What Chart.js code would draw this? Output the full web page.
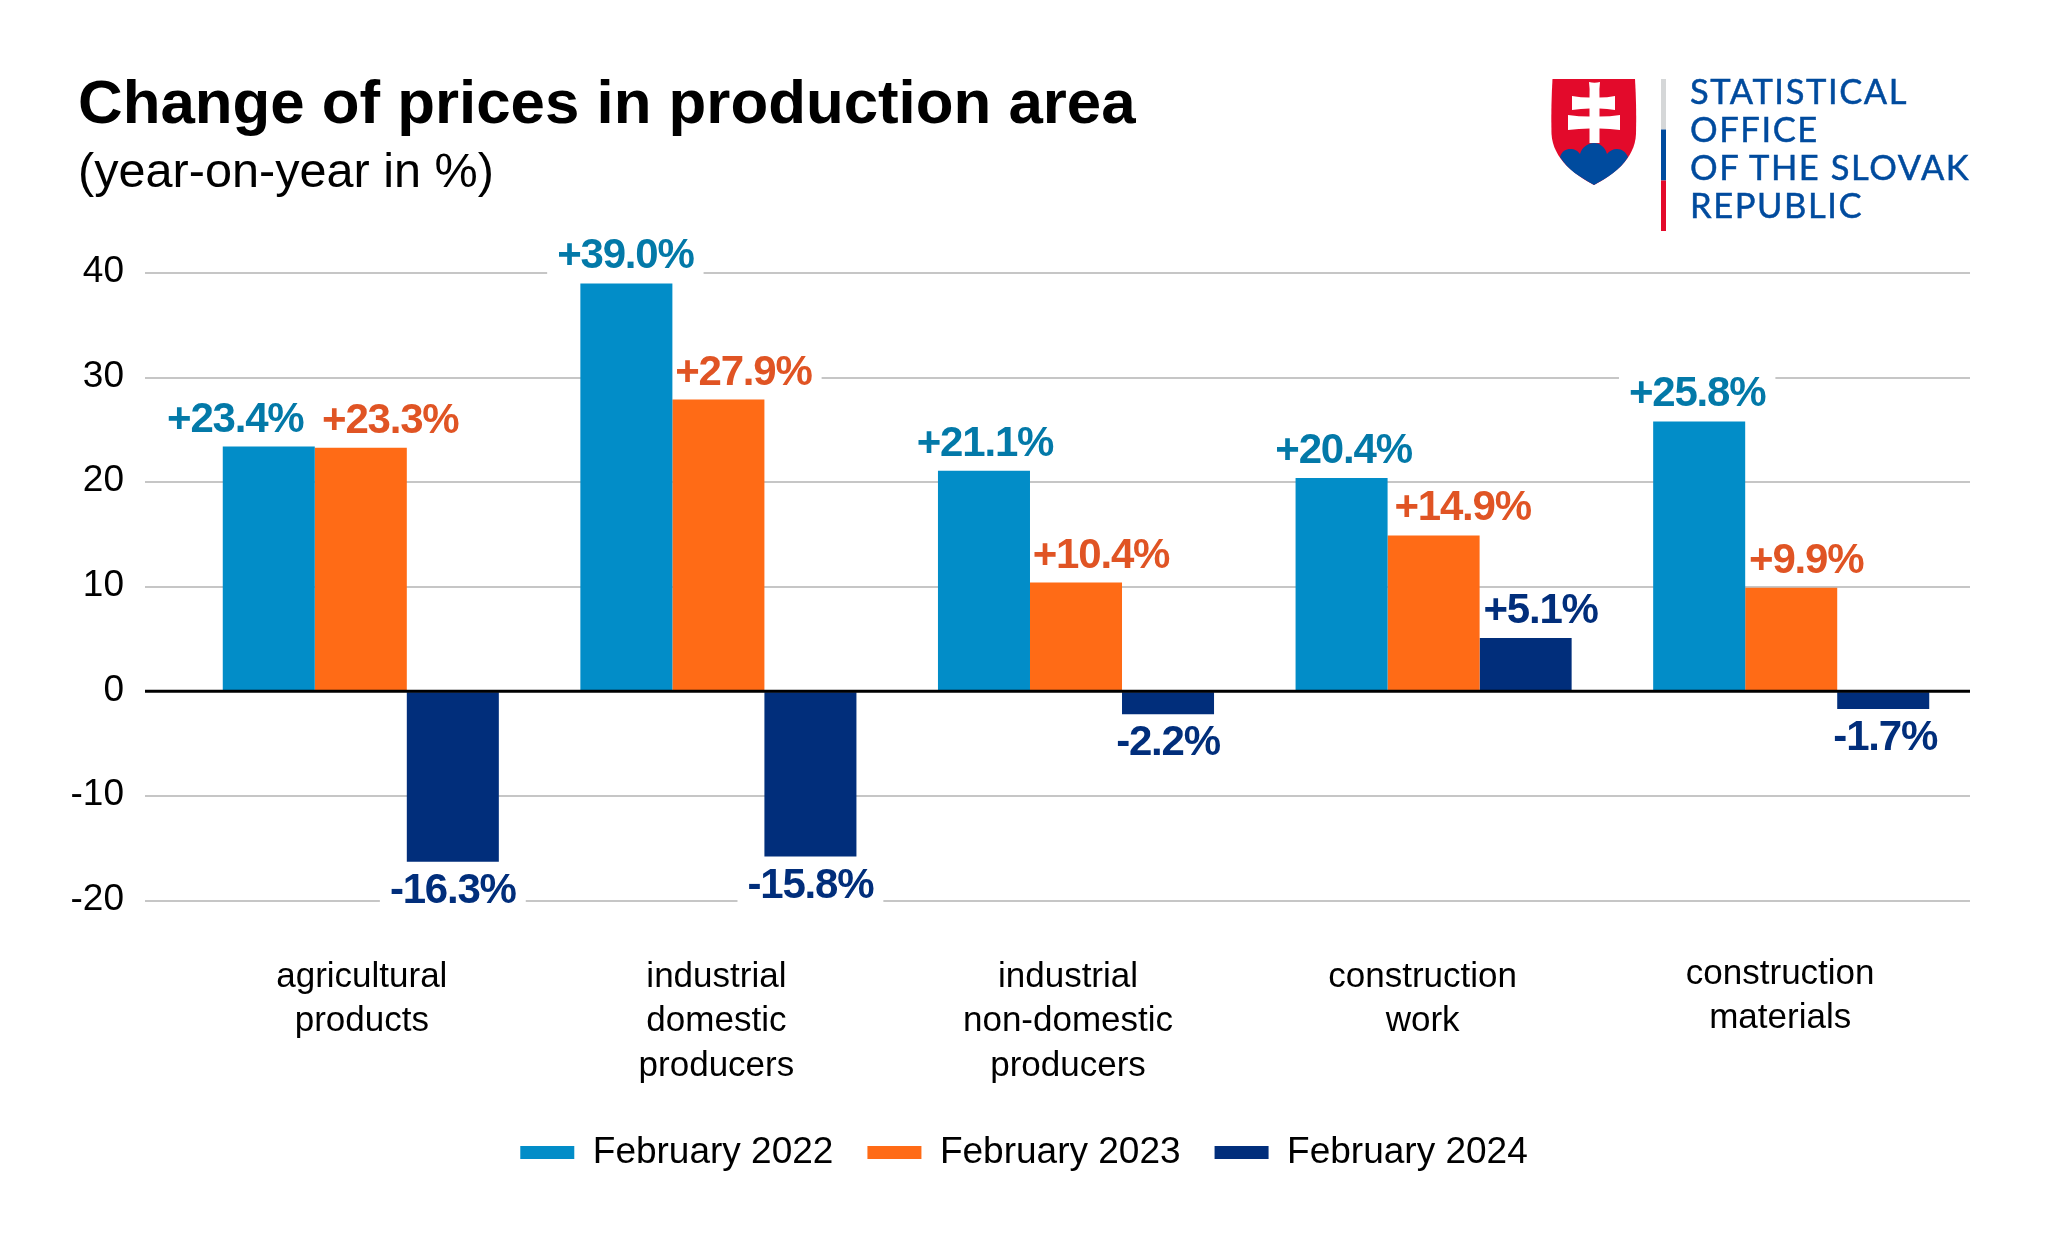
<!DOCTYPE html>
<html>
<head>
<meta charset="utf-8">
<title>Change of prices in production area</title>
<script src="https://cdn.jsdelivr.net/npm/chart.js@4"></script>
<style>
  html, body { margin: 0; background: #fff; }
  #wrap { position: relative; width: 2048px; height: 1241px; overflow: hidden; }
  #logo { position: absolute; left: 1551px; top: 79px; }
  #logo-text {
    position: absolute; left: 1690px; top: 72px;
    font: 34.5px/38px Lato, sans-serif; color: #004b9e; letter-spacing: 1.6px;
    -webkit-text-stroke: 0.5px #004b9e;
  }
</style>
</head>
<body>
<div id="wrap">
  <canvas id="chart" width="2048" height="1241"></canvas>
  <svg id="logo" width="116" height="152" viewBox="0 0 116 152">
    <path d="M1.5 0H84C85 17 85.5 35 85 55C84 80 62 96 43 106C24 96 2 80 .5 55C0 35 .5 17 1.5 0Z" fill="#e30a2b"/>
    <path d="M9 78C11 72 15 70 19 70C24 70 27 72 29 75C31 68 37 64 43 64C49 64 54 68 56 75C58 72 62 70 66 70C71 70 75 73 77 78C69 91 56 99 43 106C29 98 17 91 9 78Z" fill="#004b9e"/>
    <path d="M38 3Q43.500 4.500 49 3Q48 10 48.500 18.500Q56 18.500 64 17V31Q56 29.500 48.500 29.500V37.500Q59 37.500 69 36V51Q59 49.500 48.500 49.500V64H38.500V49.500Q28 49.500 17 51V36Q28 37.500 38.500 37.500V29.500Q30 29.500 21 31V17Q30 18.500 38.500 18.500Q39 10 38 3Z" fill="#fff"/>
    <rect x="110" y="0" width="5" height="50.500" fill="#d5d7d8"/>
    <rect x="110" y="50.500" width="5" height="51" fill="#004b9e"/>
    <rect x="110" y="101.500" width="5" height="50.500" fill="#e30a2b"/>
  </svg>
  <div id="logo-text">STATISTICAL<br>OFFICE<br>OF THE SLOVAK<br>REPUBLIC</div>
</div>

<script>
const categories = [
  ['agricultural', 'products'],
  ['industrial', 'domestic', 'producers'],
  ['industrial', 'non-domestic', 'producers'],
  ['construction', 'work'],
  ['construction', 'materials']
];

const feb2022 = [23.4, 39.0, 21.1, 20.4, 25.8];
const feb2023 = [23.3, 27.9, 10.4, 14.9, 9.9];
const feb2024 = [-16.3, -15.8, -2.2, 5.1, -1.7];

const seriesNames = ['February 2022', 'February 2023', 'February 2024'];
const yTicks = [40, 30, 20, 10, 0, -10, -20];

// colours of bars and of their value labels
const barColors = ['#028dc8', '#ff6b16', '#012e7b'];
const labelColors = ['#0379a8', '#e05424', '#012e7b'];

// value labels do not sit exactly over their bars in the original
const labelShift = [
  [-33.5, -1, 1, 2, -2],
  [29.5, 25, 25, 29, 15],
  [0, 0, 0, 15, 2]
];
const categoryShift = [1, -2, -8, -11, -11];
const categoryRaise = [0, 0, 0, 0, 3];

const fontFamily = '"Liberation Sans", Arial, sans-serif';

const formatValue = (value) => (value > 0 ? '+' : '') + value.toFixed(1) + '%';

// position of one value label, next to its bar
const labelSpot = (bar, value, i, j) => ({
  x: bar.x + labelShift[i][j],
  y: value >= 0 ? bar.y - 15 : bar.y + 41
});

const setLabelFont = (ctx) => {
  ctx.font = `bold 42px ${fontFamily}`;
  ctx.letterSpacing = '-1.2px';
  ctx.textAlign = 'center';
  ctx.textBaseline = 'alphabetic';
};

// Numbers over the bars. The white box goes under the bars and cuts the grid lines,
// the text goes over everything
const valueLabels = {
  id: 'valueLabels',
  beforeDatasetsDraw(chart) {
    const { ctx } = chart;
    ctx.save();
    setLabelFont(ctx);
    ctx.fillStyle = '#fff';
    chart.data.datasets.forEach((dataset, i) => {
      chart.getDatasetMeta(i).data.forEach((bar, j) => {
        const value = dataset.data[j];
        const { x, y } = labelSpot(bar, value, i, j);
        const width = ctx.measureText(formatValue(value)).width;
        ctx.fillRect(x - width / 2 - 10, y - 32, width + 20, 38);
      });
    });
    ctx.restore();
  },
  afterDatasetsDraw(chart) {
    const { ctx } = chart;
    ctx.save();
    setLabelFont(ctx);
    chart.data.datasets.forEach((dataset, i) => {
      chart.getDatasetMeta(i).data.forEach((bar, j) => {
        const value = dataset.data[j];
        const { x, y } = labelSpot(bar, value, i, j);
        ctx.fillStyle = labelColors[i];
        ctx.fillText(formatValue(value), x, y);
      });
    });
    ctx.restore();
  }
};

// Black zero line runs over the bars, category names under the plot
const axisExtras = {
  id: 'axisExtras',
  afterLayout(chart) {
    // the y axis clips its labels to its box, and -10 / -20 stick out of it
    chart.scales.y.left = 0;
  },
  afterDatasetsDraw(chart) {
    const { ctx, scales: { x, y }, chartArea } = chart;
    const zero = y.getPixelForValue(0);

    ctx.save();
    ctx.strokeStyle = '#000';
    ctx.lineWidth = 3;
    ctx.beginPath();
    ctx.moveTo(chartArea.left - 37, zero);
    ctx.lineTo(chartArea.right, zero);
    ctx.stroke();

    ctx.font = `35px ${fontFamily}`;
    ctx.fillStyle = '#000';
    ctx.textAlign = 'center';
    ctx.textBaseline = 'alphabetic';
    categories.forEach((lines, i) => {
      const cx = x.getPixelForValue(i) + categoryShift[i];
      lines.forEach((line, k) => {
        ctx.fillText(line, cx, chartArea.bottom + 86 - categoryRaise[i] + k * 44.5);
      });
    });
    ctx.restore();
  }
};

const data = {
  labels: categories,
  datasets: [feb2022, feb2023, feb2024].map((values, i) => ({
    label: seriesNames[i],
    data: values,
    backgroundColor: barColors[i],
    categoryPercentage: 0.772,
    barPercentage: 1
  }))
};

new Chart(document.querySelector('#chart'), {
  type: 'bar',
  data: data,
  plugins: [valueLabels, axisExtras],
  options: {
    responsive: false,
    animation: false,
    layout: { padding: { left: 78, right: 78, top: 69, bottom: 60 } },
    plugins: {
      tooltip: { enabled: false },
      title: {
        display: true,
        text: 'Change of prices in production area',
        align: 'start',
        color: '#000',
        font: { family: fontFamily, size: 61.8, weight: 'bold' },
        padding: { top: 0, bottom: 1.5 }
      },
      subtitle: {
        display: true,
        text: '(year-on-year in %)',
        align: 'start',
        color: '#000',
        font: { family: fontFamily, size: 48.6, weight: 'normal' },
        padding: { top: 0, bottom: 70 }
      },
      legend: {
        position: 'bottom',
        labels: {
          boxWidth: 54,
          boxHeight: 13,
          padding: 34,
          color: '#000',
          font: { family: fontFamily, size: 37 }
        }
      }
    },
    scales: {
      x: {
        border: { display: false },
        grid: { display: false },
        ticks: { display: false },
        afterFit: (scale) => { scale.height = 199.5; }
      },
      y: {
        min: -20,
        max: 40,
        border: { display: false },
        afterBuildTicks: (scale) => { scale.ticks = yTicks.map((value) => ({ value })); },
        afterFit: (scale) => { scale.width = 104; },
        grid: {
          color: '#c6c6c6',
          lineWidth: 2,
          tickColor: '#c6c6c6',
          tickWidth: 2,
          tickLength: 37
        },
        ticks: {
          color: '#000',
          padding: 21,
          labelOffset: -1,
          font: { family: fontFamily, size: 37 }
        }
      }
    }
  }
});
</script>
</body>
</html>
